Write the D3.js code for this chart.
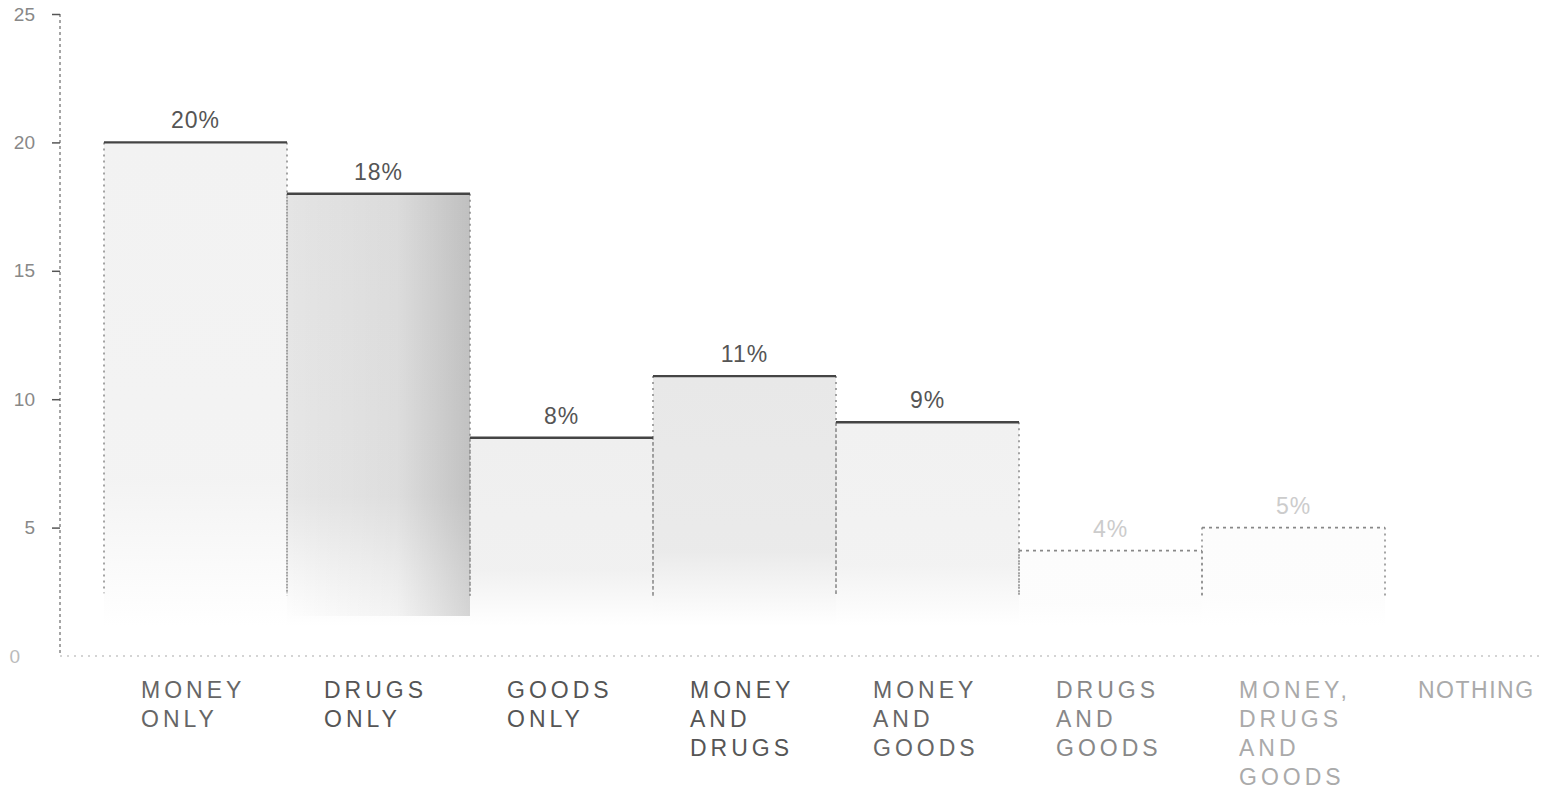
<!DOCTYPE html>
<html>
<head>
<meta charset="utf-8">
<script src="https://cdn.jsdelivr.net/npm/d3@7"></script>
<style>
  html, body { margin: 0; padding: 0; background: #fff; }
  svg { display: block; }
  text { font-family: "Liberation Sans", "DejaVu Sans", sans-serif; }
</style>
</head>
<body>
<svg id="chart" width="1544" height="802"></svg>
<script>
// ---- data ----
const categories = [
  ["MONEY", "ONLY"],
  ["DRUGS", "ONLY"],
  ["GOODS", "ONLY"],
  ["MONEY", "AND", "DRUGS"],
  ["MONEY", "AND", "GOODS"],
  ["DRUGS", "AND", "GOODS"],
  ["MONEY,", "DRUGS", "AND", "GOODS"],
  ["NOTHING"]
];
const values = [20, 18, 8.5, 10.9, 9.1, 4.1, 5.0, 0];
const valueLabels = ["20%", "18%", "8%", "11%", "9%", "4%", "5%", ""];
const yTicks = [0, 5, 10, 15, 20, 25];
const fillTones = ["#f2f2f2", "#e4e4e4", "#efefef", "#e8e8e8", "#f1f1f1", "#fcfcfc", "#fcfcfc", "#ffffff"];
const labelTones = ["#666", "#555", "#555", "#555", "#666", "#888", "#aaa", "#aaa"];

const svg = d3.select("#chart");
const keys = categories.map((c, i) => "c" + i);

const x = d3.scaleBand().domain(keys).range([104, 104 + 8 * 183]).padding(0);
const y = d3.scaleLinear().domain([0, 25]).range([656, 14]);

// gradients
const defs = svg.append("defs");
fillTones.forEach((col, i) => {
  const g = defs.append("linearGradient").attr("id", "g" + i)
    .attr("x1", 0).attr("y1", 0).attr("x2", 0).attr("y2", 1);
  g.append("stop").attr("offset", "0%").attr("stop-color", col).attr("stop-opacity", 1);
  g.append("stop").attr("offset", "70%").attr("stop-color", col).attr("stop-opacity", 0.9);
  g.append("stop").attr("offset", "100%").attr("stop-color", col).attr("stop-opacity", 0);
});
// darker right side for Drugs only
const gd = defs.append("linearGradient").attr("id", "gdr").attr("x1", 0).attr("x2", 1).attr("y1", 0).attr("y2", 0);
gd.append("stop").attr("offset", "0%").attr("stop-color", "#000").attr("stop-opacity", 0);
gd.append("stop").attr("offset", "60%").attr("stop-color", "#000").attr("stop-opacity", 0.04);
gd.append("stop").attr("offset", "100%").attr("stop-color", "#000").attr("stop-opacity", 0.16);

// y axis line
svg.append("line")
  .attr("x1", 60).attr("x2", 60).attr("y1", y(25)).attr("y2", y(0))
  .attr("stroke", "#888").attr("stroke-width", 1.5).attr("stroke-dasharray", "3,3");
// baseline
svg.append("line")
  .attr("x1", 60).attr("x2", 1544).attr("y1", y(0)).attr("y2", y(0))
  .attr("stroke", "#aaa").attr("stroke-width", 1.2).attr("stroke-dasharray", "2,5");

const yAxis = d3.axisLeft(y).tickValues(yTicks).tickSize(8).tickPadding(17);
const ya = svg.append("g").attr("transform", "translate(60,0)").call(yAxis);
ya.select(".domain").remove();
ya.selectAll(".tick line").attr("stroke", "#555").attr("stroke-width", 1.5);
ya.selectAll(".tick text").attr("fill", "#888").attr("font-size", 19);
ya.selectAll(".tick").filter(d => d === 0).select("line").remove();
ya.selectAll(".tick").filter(d => d === 0).select("text").attr("fill", "#bbb").attr("x", -40);

// bars
const data = keys.map((k, i) => ({ k, i, v: values[i] }));
const bars = svg.append("g");
bars.selectAll("rect.bar").data(data.filter(d => d.v > 0)).join("rect")
  .attr("class", "bar")
  .attr("x", d => x(d.k)).attr("width", x.bandwidth())
  .attr("y", d => y(d.v)).attr("height", d => y(0) - y(d.v) - 30)
  .attr("fill", d => `url(#g${d.i})`);
bars.append("rect")
  .attr("x", x("c1")).attr("width", x.bandwidth())
  .attr("y", y(values[1])).attr("height", y(0) - y(values[1]) - 40)
  .attr("fill", "url(#gdr)");

// side dashed lines
bars.selectAll("line.side").data(data.filter(d => d.v > 0)).join("line")
  .attr("class", "side")
  .attr("x1", d => x(d.k)).attr("x2", d => x(d.k))
  .attr("y1", d => y(d.v)).attr("y2", d => Math.min(y(0) - 60, y(d.v) + 40 + (y(0) - y(d.v)) * 0.8))
  .attr("stroke", "#888").attr("stroke-width", 1.5).attr("stroke-dasharray", "2,4");
bars.selectAll("line.side2").data(data.filter(d => d.v > 0)).join("line")
  .attr("class", "side2")
  .attr("x1", d => x(d.k) + x.bandwidth()).attr("x2", d => x(d.k) + x.bandwidth())
  .attr("y1", d => y(d.v)).attr("y2", d => Math.min(y(0) - 60, y(d.v) + 40 + (y(0) - y(d.v)) * 0.8))
  .attr("stroke", "#888").attr("stroke-width", 1.5).attr("stroke-dasharray", "2,4");

// top lines
bars.selectAll("line.top").data(data.filter(d => d.v > 0)).join("line")
  .attr("class", "top")
  .attr("x1", d => x(d.k)).attr("x2", d => x(d.k) + x.bandwidth())
  .attr("y1", d => y(d.v)).attr("y2", d => y(d.v))
  .attr("stroke", d => d.i >= 5 ? "#888" : "#444")
  .attr("stroke-width", d => d.i >= 5 ? 1.8 : 2.4)
  .attr("stroke-dasharray", d => d.i >= 5 ? "3,4" : null);

// value labels
svg.append("g").selectAll("text").data(data).join("text")
  .attr("x", d => x(d.k) + x.bandwidth() / 2)
  .attr("y", d => y(d.v) - 14)
  .attr("text-anchor", "middle")
  .attr("font-size", 23)
  .attr("letter-spacing", 1)
  .attr("fill", d => d.i >= 5 ? "#ccc" : "#555")
  .text(d => valueLabels[d.i]);

// category labels
const cl = svg.append("g");
data.forEach(d => {
  const last = d.i === categories.length - 1;
  const x0 = x(d.k) + (last ? 33 : 37);
  const t = cl.append("text")
    .attr("x", x0).attr("y", 698)
    .attr("font-size", 23).attr("letter-spacing", last ? 1.5 : 4)
    .attr("fill", labelTones[d.i]);
  categories[d.i].forEach((line, j) => {
    t.append("tspan").attr("x", x0).attr("dy", j === 0 ? 0 : 29).text(line);
  });
});
</script>
</body>
</html>
